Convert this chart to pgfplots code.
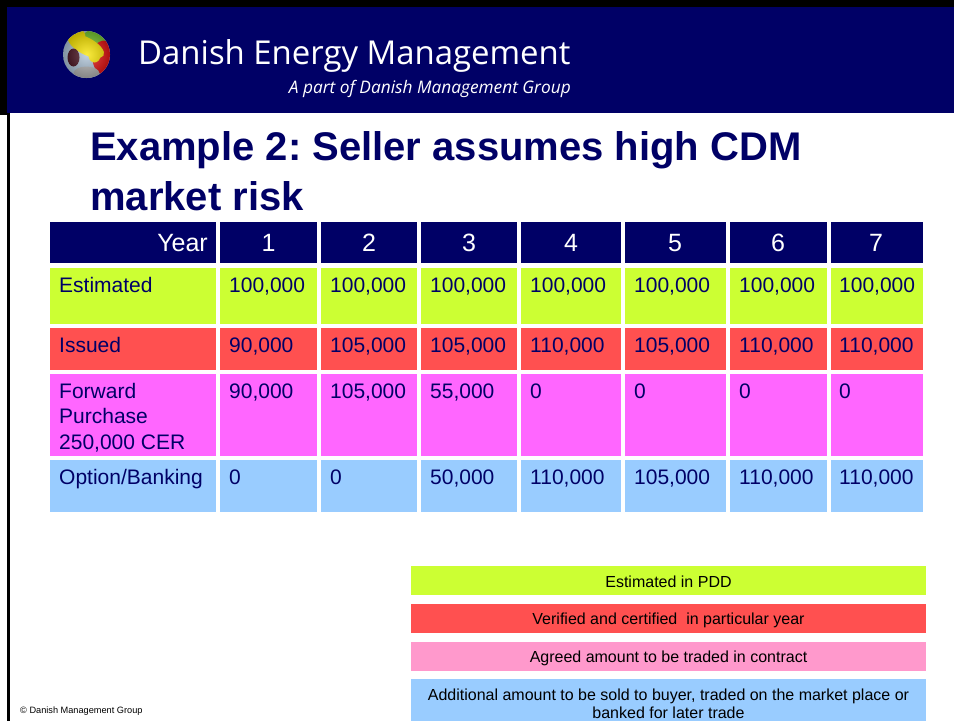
\documentclass[border=0pt]{standalone}
\usepackage{pgfplots}
\usepackage{pgfplotstable}
\pgfplotsset{compat=1.18}
\usepackage{fontspec}
\setmainfont{Liberation Sans}
\newfontfamily\hdr{Open Sans}
\usetikzlibrary{shadings,calc}
\frenchspacing
\definecolor{navy}{RGB}{0,0,102}
\definecolor{cEst}{RGB}{204,255,51}
\definecolor{cIss}{RGB}{255,80,80}
\definecolor{cFwd}{RGB}{255,102,255}
\definecolor{cOpt}{RGB}{153,204,255}
\definecolor{cPink}{RGB}{255,153,204}
\definecolor{maroonL}{RGB}{70,15,30}
\definecolor{ballY}{RGB}{250,230,0}
\definecolor{ballG}{RGB}{120,200,50}
\definecolor{ballR}{RGB}{230,20,20}
\definecolor{ballB}{RGB}{140,170,200}

% header row: centre x, baseline y, label
\pgfplotstableread{
x y label
268.5 251 1
369 251 2
469 251 3
571 251 4
675 251 5
778 251 6
876 251 7
}\years
% Estimated row
\pgfplotstableread{
x y label
229 292 100,000
330 292 100,000
430 292 100,000
530 292 100,000
634 292 100,000
739 292 100,000
839 292 100,000
}\estimated
% Issued row
\pgfplotstableread{
x y label
229 352 90,000
330 352 105,000
430 352 105,000
530 352 110,000
634 352 105,000
739 352 110,000
839 352 110,000
}\issued
% Forward purchase row
\pgfplotstableread{
x y label
229 398 90,000
330 398 105,000
430 398 55,000
530 398 0
634 398 0
739 398 0
839 398 0
}\forward
% Option/Banking row
\pgfplotstableread{
x y label
229 484 0
330 484 0
430 484 50,000
530 484 110,000
634 484 105,000
739 484 110,000
839 484 110,000
}\option

\newcommand{\cellbox}[5]{\fill[#1] (axis cs:#2,#3) rectangle (axis cs:#4,#5);}

\begin{document}
\begin{tikzpicture}
\begin{axis}[
  width=954pt, height=721pt, scale only axis,
  xmin=0, xmax=954, ymin=0, ymax=721, y dir=reverse,
  hide axis, clip=false,
]
% background and frame
\fill[white] (axis cs:0,0) rectangle (axis cs:954,721);
\fill[black] (axis cs:0,0) rectangle (axis cs:954,7);
\fill[black] (axis cs:0,0) rectangle (axis cs:7,115);
\fill[black] (axis cs:7,0) rectangle (axis cs:10,721);
\fill[navy] (axis cs:7,7) rectangle (axis cs:954,113);

% logo
\coordinate (L) at (axis cs:86.5,54.5);
\coordinate (LY) at (axis cs:86,46);
\fill[ballB!70!white] (L) circle[radius=23.5pt];
\begin{scope}
\clip (L) circle[radius=23.5pt];
\fill[ballG] ($(L)+(9pt,17pt)$) ellipse[x radius=13pt, y radius=8pt];
\fill[ballR] ($(L)+(17pt,-3pt)$) ellipse[x radius=11pt, y radius=17pt];
\fill[ballY, rotate around={-28:(LY)}] (LY) ellipse[x radius=20pt, y radius=8.5pt];
\fill[ballY] ($(L)+(-6pt,17pt)$) ellipse[x radius=5pt, y radius=8pt];
\fill[ballY] ($(L)+(8pt,-1pt)$) ellipse[x radius=6pt, y radius=7pt];
\fill[maroonL] ($(L)+(-13pt,-3pt)$) ellipse[x radius=6pt, y radius=9pt];
\fill[gray!60!white] ($(L)+(0pt,-19pt)$) ellipse[x radius=13pt, y radius=7pt];
\shade[inner color=white, outer color=black, opacity=0.25] (L) circle[radius=23.5pt];
\end{scope}

\node[anchor=base west, inner sep=0pt, text=white, font=\hdr\fontsize{32.9}{38}\selectfont] at (axis cs:138,64) {Danish Energy Management};
\node[anchor=base east, inner sep=0pt, text=white, font=\hdr\itshape\fontsize{17.3}{20}\selectfont] at (axis cs:571,93) {A part of Danish Management Group};

% title
\node[anchor=base west, inner sep=0pt, text=navy, font=\bfseries\fontsize{40}{48}\selectfont] at (axis cs:90,160) {Example 2: Seller assumes high CDM};
\node[anchor=base west, inner sep=0pt, text=navy, font=\bfseries\fontsize{40}{48}\selectfont] at (axis cs:90,210) {market risk};

% table cells
\foreach \a/\b in {50/216,220/317,321/417,421/517,521/621,625/726,730/827,831/923}{
  \edef\temp{%
  \noexpand\cellbox{navy}{\a}{222}{\b}{263}%
  \noexpand\cellbox{cEst}{\a}{268}{\b}{324}%
  \noexpand\cellbox{cIss}{\a}{328}{\b}{370}%
  \noexpand\cellbox{cFwd}{\a}{374}{\b}{456}%
  \noexpand\cellbox{cOpt}{\a}{460}{\b}{512}}%
  \temp
}

% row labels
\node[anchor=base east, inner sep=0pt, text=white, font=\fontsize{25}{30}\selectfont] at (axis cs:208,251) {Year};
\node[anchor=base west, inner sep=0pt, text=navy, font=\fontsize{21}{25}\selectfont] at (axis cs:59,292) {Estimated};
\node[anchor=base west, inner sep=0pt, text=navy, font=\fontsize{21}{25}\selectfont] at (axis cs:59,352) {Issued};
\node[anchor=base west, inner sep=0pt, text=navy, font=\fontsize{21}{25}\selectfont] at (axis cs:59,398) {Forward};
\node[anchor=base west, inner sep=0pt, text=navy, font=\fontsize{21}{25}\selectfont] at (axis cs:59,423.5) {Purchase};
\node[anchor=base west, inner sep=0pt, text=navy, font=\fontsize{21}{25}\selectfont] at (axis cs:59,449) {250,000 CER};
\node[anchor=base west, inner sep=0pt, text=navy, font=\fontsize{21}{25}\selectfont] at (axis cs:59,484) {Option/Banking};

% data values
\addplot[only marks, mark=none, nodes near coords, point meta=explicit symbolic,
  every node near coord/.append style={anchor=base, inner sep=0pt, text=white, font=\fontsize{25}{30}\selectfont}]
  table[x=x, y=y, meta=label]{\years};
\pgfplotsset{valstyle/.style={only marks, mark=none, nodes near coords, point meta=explicit symbolic,
  every node near coord/.append style={anchor=base west, inner sep=0pt, text=navy, font=\fontsize{21}{25}\selectfont}}}
\addplot[valstyle] table[x=x, y=y, meta=label]{\estimated};
\addplot[valstyle] table[x=x, y=y, meta=label]{\issued};
\addplot[valstyle] table[x=x, y=y, meta=label]{\forward};
\addplot[valstyle] table[x=x, y=y, meta=label]{\option};

% key boxes
\cellbox{cEst}{411}{566}{926}{595}
\cellbox{cIss}{411}{604}{926}{633}
\cellbox{cPink}{411}{642}{926}{671}
\cellbox{cOpt}{411}{679}{926}{721}
\node[anchor=base, inner sep=0pt, font=\fontsize{16}{19}\selectfont] at (axis cs:668.5,587) {Estimated in PDD};
\node[anchor=base, inner sep=0pt, font=\fontsize{16}{19}\selectfont] at (axis cs:668.5,624) {Verified and certified \ in particular year};
\node[anchor=base, inner sep=0pt, font=\fontsize{16}{19}\selectfont] at (axis cs:668.5,662) {Agreed amount to be traded in contract};
\node[anchor=base, inner sep=0pt, font=\fontsize{16}{19}\selectfont] at (axis cs:668.5,700) {Additional amount to be sold to buyer, traded on the market place or};
\node[anchor=base, inner sep=0pt, font=\fontsize{16}{19}\selectfont] at (axis cs:668.5,718) {banked for later trade};

% footer
\node[anchor=base west, inner sep=0pt, font=\fontsize{9.2}{11}\selectfont] at (axis cs:20,713) {\textcopyright\ Danish Management Group};
\end{axis}
\end{tikzpicture}
\end{document}
